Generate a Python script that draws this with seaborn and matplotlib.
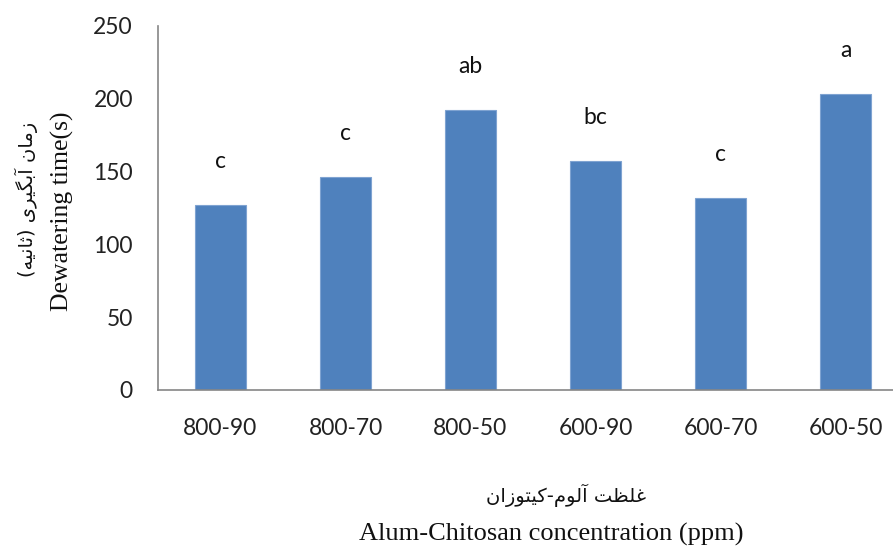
import matplotlib
matplotlib.use("Agg")
import matplotlib.pyplot as plt
import seaborn as sns
import pandas as pd
from matplotlib.ticker import FixedLocator

categories = ["800-90", "800-70", "800-50", "600-90", "600-70", "600-50"]
values = [127, 146, 192, 157, 132, 203]
letters = ["c", "c", "ab", "bc", "c", "a"]
yticks = [0, 50, 100, 150, 200, 250]

ylabel_en = "Dewatering time(s)"
ylabel_fa = "زمان آبگیری (ثانیه)"
xlabel_en = "Alum-Chitosan concentration (ppm)"
xlabel_fa = "غلظت آلوم-کیتوزان"

# --- minimal Persian shaping (presentation forms + visual order) ---
FORMS = {
    '\u0627': ('\uFE8D', '\uFE8E', None, None),
    '\u0622': ('\uFE81', '\uFE82', None, None),
    '\u0628': ('\uFE8F', '\uFE90', '\uFE91', '\uFE92'),
    '\u062A': ('\uFE95', '\uFE96', '\uFE97', '\uFE98'),
    '\u062B': ('\uFE99', '\uFE9A', '\uFE9B', '\uFE9C'),
    '\u0631': ('\uFEAD', '\uFEAE', None, None),
    '\u0632': ('\uFEAF', '\uFEB0', None, None),
    '\u0638': ('\uFEC5', '\uFEC6', '\uFEC7', '\uFEC8'),
    '\u063A': ('\uFECD', '\uFECE', '\uFECF', '\uFED0'),
    '\u0644': ('\uFEDD', '\uFEDE', '\uFEDF', '\uFEE0'),
    '\u0645': ('\uFEE1', '\uFEE2', '\uFEE3', '\uFEE4'),
    '\u0646': ('\uFEE5', '\uFEE6', '\uFEE7', '\uFEE8'),
    '\u0647': ('\uFEE9', '\uFEEA', '\uFEEB', '\uFEEC'),
    '\u0648': ('\uFEED', '\uFEEE', None, None),
    '\u06A9': ('\uFB8E', '\uFB8F', '\uFB90', '\uFB91'),
    '\u06AF': ('\uFB92', '\uFB93', '\uFB94', '\uFB95'),
    '\u06CC': ('\uFBFC', '\uFBFD', '\uFBFE', '\uFBFF'),
}


def shape_fa(s):
    out = []
    n = len(s)
    for i, ch in enumerate(s):
        if ch not in FORMS:
            out.append(ch)
            continue
        f = FORMS[ch]
        prev = s[i - 1] if i > 0 else None
        nxt = s[i + 1] if i < n - 1 else None
        prev_joins = prev in FORMS and FORMS[prev][2] is not None
        can_fwd = f[2] is not None
        next_in = nxt in FORMS
        if prev_joins and can_fwd and next_in:
            out.append(f[3])
        elif prev_joins:
            out.append(f[1])
        elif can_fwd and next_in:
            out.append(f[2])
        else:
            out.append(f[0])
    vis = "".join(reversed(out))
    vis = vis.translate(str.maketrans({"(": ")", ")": "("}))
    return vis


sns.set_theme(style="white")
plt.rcParams['font.family'] = ['Lato', 'DejaVu Sans']

W, H = 893, 549
fig = plt.figure(figsize=(W / 100, H / 100), dpi=100)
ax = fig.add_axes([158 / W, (H - 390) / H, 1 - 158 / W, (390 - 26) / H])

df = pd.DataFrame({"cat": categories, "val": values})
sns.barplot(data=df, x="cat", y="val", color="#4F81BD", saturation=1,
            width=0.41, edgecolor="#7FA3D1", linewidth=0.8, ax=ax)

ax.set_ylim(0, 250)
ax.set_xlim(-0.5, -0.5 + (W - 158) / 125)
ax.set_yticks(yticks)
ax.set_yticklabels([str(t) for t in yticks], fontsize=16.5, color="#222222")
ax.set_xticks(range(len(categories)))
ax.set_xticklabels(categories, fontsize=16.5, color="#222222")
ax.xaxis.set_minor_locator(FixedLocator([i - 0.5 for i in range(len(categories) + 1)]))
ax.tick_params(axis="x", which="major", length=0, pad=20)
ax.tick_params(axis="x", which="minor", length=6, width=1.2, color="#868686", direction="out")
ax.tick_params(axis="y", which="major", length=6, width=1.2, color="#868686", direction="out", pad=12)
ax.set_xlabel("")
ax.set_ylabel("")
for side in ["top", "right"]:
    ax.spines[side].set_visible(False)
for side in ["left", "bottom"]:
    ax.spines[side].set_color("#868686")
    ax.spines[side].set_linewidth(1.2)

for i, (v, t) in enumerate(zip(values, letters)):
    ax.text(i, v + 30, t, ha="center", va="center", fontsize=16.5, color="#111111")

serif = ['Liberation Serif', 'DejaVu Sans']
fig.text(62 / W, (H - 211) / H, ylabel_en, rotation=90, ha="center", va="center",
         fontsize=18.5, family=serif, color="#111111")
fig.text(26 / W, (H - 199) / H, shape_fa(ylabel_fa), rotation=90, ha="center", va="center",
         fontsize=14, family=['DejaVu Sans'], color="#111111")
fig.text(551 / W, (H - 534) / H, xlabel_en, ha="center", va="center",
         fontsize=19, family=serif, color="#111111")
fig.text(566 / W, (H - 495) / H, shape_fa(xlabel_fa), ha="center", va="center",
         fontsize=14, family=['DejaVu Sans'], color="#111111")

fig.savefig("out.png", dpi=100)
